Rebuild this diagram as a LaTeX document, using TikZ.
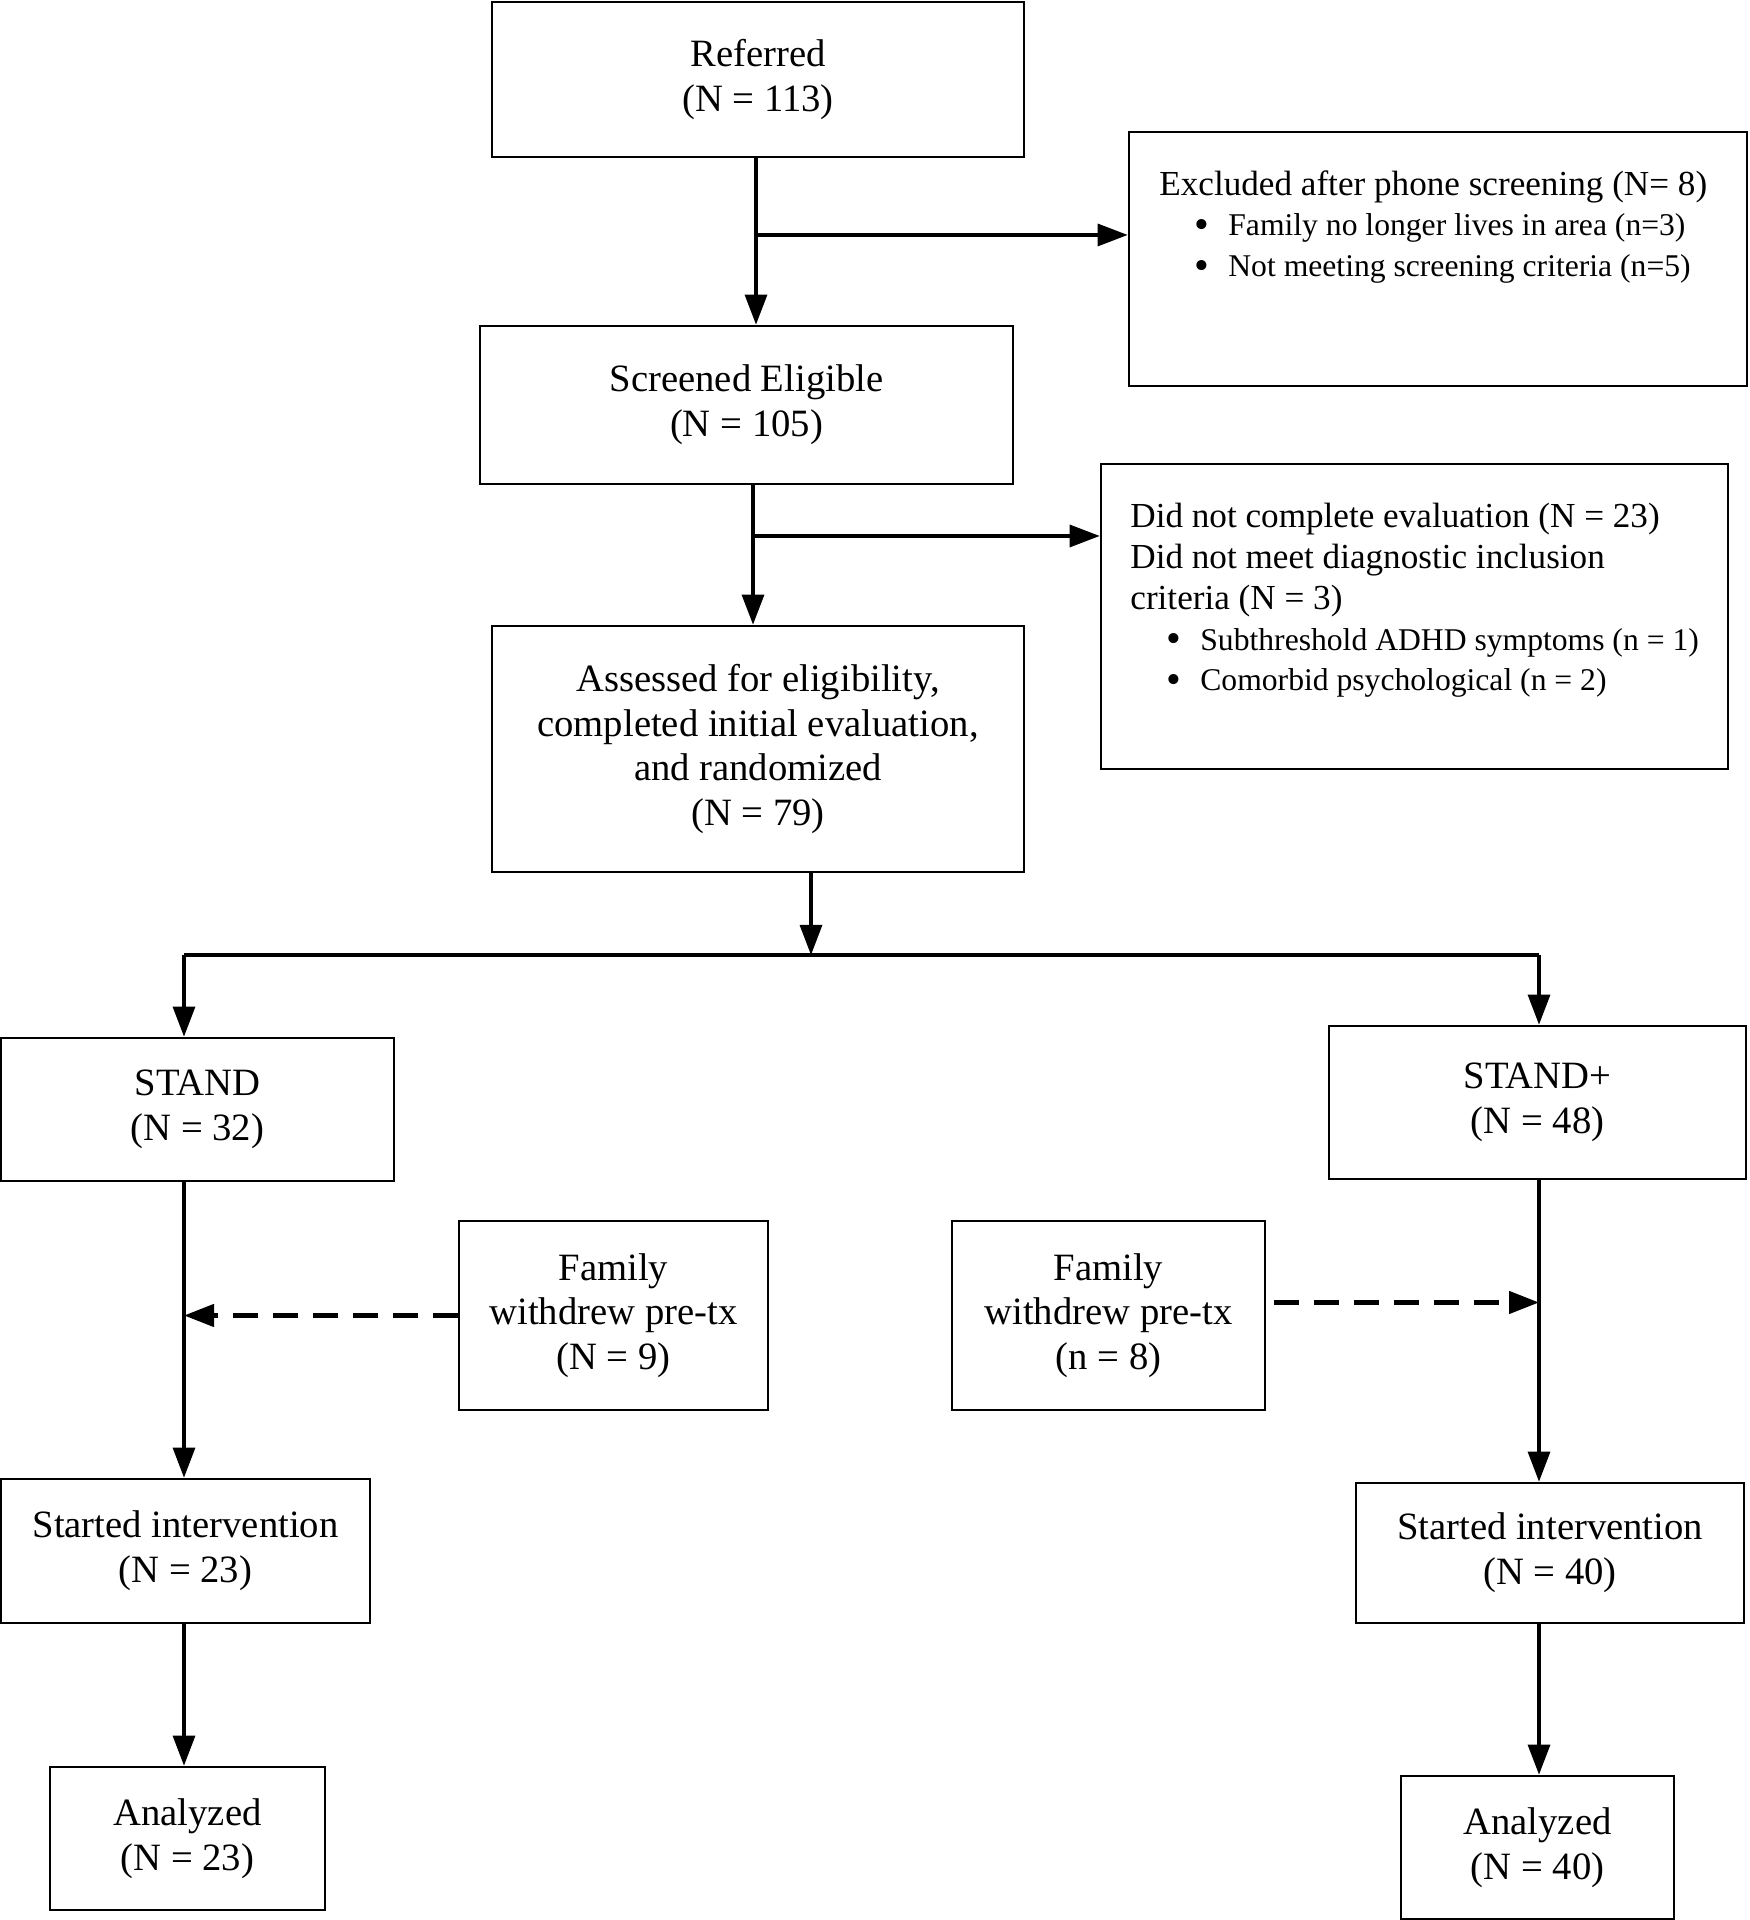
\documentclass[tikz,border=0pt]{standalone}
\usepackage{fontspec}
\setmainfont{Liberation Serif}
\usetikzlibrary{arrows.meta, positioning}

\tikzset{
    box/.style={draw, line width=0.75pt, align=center, inner sep=2pt,
        font=\fontsize{11}{12.7}\selectfont},
    sidebox/.style={draw, line width=0.75pt},
    sidetext/.style={align=left, inner sep=0pt, anchor=north west,
        font=\fontsize{10}{11.6}\selectfont},
    flow/.style={line width=0.9pt, -{Triangle[length=0.3cm, width=0.22cm]}},
    link/.style={line width=0.9pt},
    dropout/.style={line width=1.3pt, dash pattern=on 0.25cm off 0.15cm,
        -{Triangle[length=0.3cm, width=0.22cm]}}
}
\newcommand{\sidebullet}[2]{\hspace*{#1}\makebox[0.34cm][l]{\smash{\raisebox{-0.7pt}{\fontsize{12}{12}\selectfont\textbullet}}}{\fontsize{9}{11.6}\selectfont #2}}

\begin{document}
\begin{tikzpicture}
    \useasboundingbox (0,0) rectangle (17.5,19.2);

    % Main column
    \node[box, minimum width=5.32cm, minimum height=1.55cm] (referred) at (7.58,18.405)
        {Referred\\(N = 113)};
    \node[box, minimum width=5.33cm, minimum height=1.58cm] (screened) at (7.465,15.15)
        {Screened Eligible\\(N = 105)};
    \node[box, minimum width=5.32cm, minimum height=2.46cm] (assessed) at (7.58,11.71)
        {Assessed for eligibility,\\completed initial evaluation,\\and randomized\\(N = 79)};

    % Exclusion boxes
    \node[sidebox, minimum width=6.18cm, minimum height=2.54cm] (excl) at (14.38,16.61) {};
    \node[sidetext] (excltext) at ([shift={(0.31,-0.39)}]excl.north west)
        {Excluded after phone screening (N= 8)\\
         \sidebullet{0.35cm}{Family no longer lives in area (n=3)}\\
         \sidebullet{0.35cm}{Not meeting screening criteria (n=5)}};
    \node[sidebox, minimum width=6.27cm, minimum height=3.05cm] (didnot) at (14.145,13.035) {};
    \node[sidetext] (didnottext) at ([shift={(0.30,-0.40)}]didnot.north west)
        {Did not complete evaluation (N = 23)\\
         Did not meet diagnostic inclusion\\
         criteria (N = 3)\\
         \sidebullet{0.36cm}{Subthreshold ADHD symptoms (n = 1)}\\
         \sidebullet{0.36cm}{Comorbid psychological (n = 2)}};

    % Arms
    \node[box, minimum width=3.93cm, minimum height=1.43cm] (stand) at (1.975,8.105)
        {STAND\\(N = 32)};
    \node[box, minimum width=4.17cm, minimum height=1.53cm] (standplus) at (15.375,8.175)
        {STAND+\\(N = 48)};
    \node[box, minimum width=3.09cm, minimum height=1.89cm] (withdrew9) at (6.135,6.045)
        {Family\\withdrew pre-tx\\(N = 9)};
    \node[box, minimum width=3.13cm, minimum height=1.89cm] (withdrew8) at (11.085,6.045)
        {Family\\withdrew pre-tx\\(n = 8)};
    \node[box, minimum width=3.69cm, minimum height=1.44cm] (startleft) at (1.855,3.69)
        {Started intervention\\(N = 23)};
    \node[box, minimum width=3.88cm, minimum height=1.40cm] (startright) at (15.50,3.67)
        {Started intervention\\(N = 40)};
    \node[box, minimum width=2.75cm, minimum height=1.43cm] (analyzedleft) at (1.875,0.815)
        {Analyzed\\(N = 23)};
    \node[box, minimum width=2.73cm, minimum height=1.43cm] (analyzedright) at (15.375,0.725)
        {Analyzed\\(N = 40)};

    % Split points
    \coordinate (split1) at (7.56,16.85);
    \coordinate (split2) at (7.53,13.84);
    \coordinate (split3) at (8.11,9.65);
    \coordinate (leftcol) at (1.84,9.65);
    \coordinate (rightcol) at (15.39,9.65);

    % Connectors
    \draw[flow] (split1 |- referred.south) -- (split1 |- screened.north);
    \draw[flow] (split1) -- (split1 -| excl.west);
    \draw[flow] (split2 |- screened.south) -- (split2 |- assessed.north);
    \draw[flow] (split2) -- (split2 -| didnot.west);
    \draw[flow] (split3 |- assessed.south) -- (split3);
    \draw[link] (leftcol) -- (rightcol);
    \draw[flow] (leftcol) -- (leftcol |- stand.north);
    \draw[flow] (rightcol) -- (rightcol |- standplus.north);
    \draw[flow] (leftcol |- stand.south) -- (leftcol |- startleft.north);
    \draw[flow] (rightcol |- standplus.south) -- (rightcol |- startright.north);
    \draw[flow] (leftcol |- startleft.south) -- (leftcol |- analyzedleft.north);
    \draw[flow] (rightcol |- startright.south) -- (rightcol |- analyzedright.north);

    % Withdrawals
    \draw[dropout] (withdrew9.west) -- (withdrew9.west -| leftcol);
    \draw[dropout] ([shift={(0.08,0.13)}]withdrew8.east) -- ([yshift=0.13cm]withdrew8.east -| rightcol);
\end{tikzpicture}
\end{document}
